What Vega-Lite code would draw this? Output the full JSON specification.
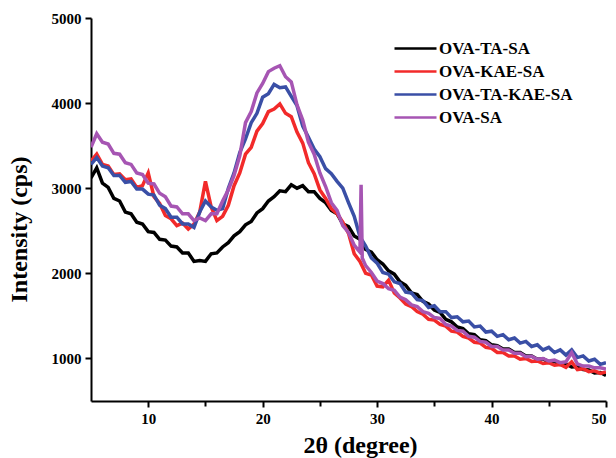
{
  "$schema": "https://vega.github.io/schema/vega-lite/v6.json",
  "width": 515,
  "height": 383,
  "autosize": "none",
  "padding": {"left": 91, "top": 18, "right": 10, "bottom": 57},
  "background": "white",
  "config": {"view": {"stroke": null}},
  "data": {"values": [
    {"x":5.0,"OVA-TA-SA":3120,"OVA-KAE-SA":3320,"OVA-TA-KAE-SA":3280,"OVA-SA":3480},
    {"x":5.5,"OVA-TA-SA":3240,"OVA-KAE-SA":3400,"OVA-TA-KAE-SA":3360,"OVA-SA":3640},
    {"x":6.0,"OVA-TA-SA":3060,"OVA-KAE-SA":3280,"OVA-TA-KAE-SA":3260,"OVA-SA":3540},
    {"x":6.5,"OVA-TA-SA":3010,"OVA-KAE-SA":3260,"OVA-TA-KAE-SA":3240,"OVA-SA":3520},
    {"x":7.0,"OVA-TA-SA":2880,"OVA-KAE-SA":3160,"OVA-TA-KAE-SA":3150,"OVA-SA":3410},
    {"x":7.5,"OVA-TA-SA":2850,"OVA-KAE-SA":3170,"OVA-TA-KAE-SA":3150,"OVA-SA":3400},
    {"x":8.0,"OVA-TA-SA":2720,"OVA-KAE-SA":3100,"OVA-TA-KAE-SA":3070,"OVA-SA":3300},
    {"x":8.5,"OVA-TA-SA":2700,"OVA-KAE-SA":3110,"OVA-TA-KAE-SA":3080,"OVA-SA":3280},
    {"x":9.0,"OVA-TA-SA":2600,"OVA-KAE-SA":3010,"OVA-TA-KAE-SA":2990,"OVA-SA":3180},
    {"x":9.5,"OVA-TA-SA":2580,"OVA-KAE-SA":3030,"OVA-TA-KAE-SA":2990,"OVA-SA":3160},
    {"x":10.0,"OVA-TA-SA":2490,"OVA-KAE-SA":3180,"OVA-TA-KAE-SA":2930,"OVA-SA":3060},
    {"x":10.5,"OVA-TA-SA":2480,"OVA-KAE-SA":2900,"OVA-TA-KAE-SA":2920,"OVA-SA":3050},
    {"x":11.0,"OVA-TA-SA":2400,"OVA-KAE-SA":2820,"OVA-TA-KAE-SA":2800,"OVA-SA":2940},
    {"x":11.5,"OVA-TA-SA":2390,"OVA-KAE-SA":2680,"OVA-TA-KAE-SA":2760,"OVA-SA":2900},
    {"x":12.0,"OVA-TA-SA":2320,"OVA-KAE-SA":2640,"OVA-TA-KAE-SA":2660,"OVA-SA":2790},
    {"x":12.5,"OVA-TA-SA":2310,"OVA-KAE-SA":2560,"OVA-TA-KAE-SA":2660,"OVA-SA":2780},
    {"x":13.0,"OVA-TA-SA":2240,"OVA-KAE-SA":2590,"OVA-TA-KAE-SA":2580,"OVA-SA":2700},
    {"x":13.5,"OVA-TA-SA":2240,"OVA-KAE-SA":2520,"OVA-TA-KAE-SA":2580,"OVA-SA":2700},
    {"x":14.0,"OVA-TA-SA":2140,"OVA-KAE-SA":2580,"OVA-TA-KAE-SA":2540,"OVA-SA":2620},
    {"x":14.5,"OVA-TA-SA":2150,"OVA-KAE-SA":2720,"OVA-TA-KAE-SA":2720,"OVA-SA":2650},
    {"x":15.0,"OVA-TA-SA":2140,"OVA-KAE-SA":3080,"OVA-TA-KAE-SA":2850,"OVA-SA":2620},
    {"x":15.5,"OVA-TA-SA":2230,"OVA-KAE-SA":2780,"OVA-TA-KAE-SA":2780,"OVA-SA":2700},
    {"x":16.0,"OVA-TA-SA":2240,"OVA-KAE-SA":2620,"OVA-TA-KAE-SA":2740,"OVA-SA":2700},
    {"x":16.5,"OVA-TA-SA":2310,"OVA-KAE-SA":2670,"OVA-TA-KAE-SA":2760,"OVA-SA":2850},
    {"x":17.0,"OVA-TA-SA":2360,"OVA-KAE-SA":2800,"OVA-TA-KAE-SA":3000,"OVA-SA":2980},
    {"x":17.5,"OVA-TA-SA":2440,"OVA-KAE-SA":3030,"OVA-TA-KAE-SA":3180,"OVA-SA":3150},
    {"x":18.0,"OVA-TA-SA":2490,"OVA-KAE-SA":3180,"OVA-TA-KAE-SA":3420,"OVA-SA":3380},
    {"x":18.5,"OVA-TA-SA":2570,"OVA-KAE-SA":3400,"OVA-TA-KAE-SA":3580,"OVA-SA":3770},
    {"x":19.0,"OVA-TA-SA":2610,"OVA-KAE-SA":3480,"OVA-TA-KAE-SA":3770,"OVA-SA":3900},
    {"x":19.5,"OVA-TA-SA":2710,"OVA-KAE-SA":3670,"OVA-TA-KAE-SA":3880,"OVA-SA":4120},
    {"x":20.0,"OVA-TA-SA":2760,"OVA-KAE-SA":3760,"OVA-TA-KAE-SA":4070,"OVA-SA":4230},
    {"x":20.5,"OVA-TA-SA":2850,"OVA-KAE-SA":3900,"OVA-TA-KAE-SA":4110,"OVA-SA":4370},
    {"x":21.0,"OVA-TA-SA":2900,"OVA-KAE-SA":3930,"OVA-TA-KAE-SA":4220,"OVA-SA":4410},
    {"x":21.5,"OVA-TA-SA":2970,"OVA-KAE-SA":3990,"OVA-TA-KAE-SA":4180,"OVA-SA":4440},
    {"x":22.0,"OVA-TA-SA":2960,"OVA-KAE-SA":3880,"OVA-TA-KAE-SA":4190,"OVA-SA":4310},
    {"x":22.5,"OVA-TA-SA":3040,"OVA-KAE-SA":3840,"OVA-TA-KAE-SA":4080,"OVA-SA":4250},
    {"x":23.0,"OVA-TA-SA":3000,"OVA-KAE-SA":3660,"OVA-TA-KAE-SA":3970,"OVA-SA":3980},
    {"x":23.5,"OVA-TA-SA":3030,"OVA-KAE-SA":3530,"OVA-TA-KAE-SA":3730,"OVA-SA":3800},
    {"x":24.0,"OVA-TA-SA":2960,"OVA-KAE-SA":3300,"OVA-TA-KAE-SA":3600,"OVA-SA":3540},
    {"x":24.5,"OVA-TA-SA":2960,"OVA-KAE-SA":3170,"OVA-TA-KAE-SA":3460,"OVA-SA":3400},
    {"x":25.0,"OVA-TA-SA":2880,"OVA-KAE-SA":2980,"OVA-TA-KAE-SA":3370,"OVA-SA":3180},
    {"x":25.5,"OVA-TA-SA":2830,"OVA-KAE-SA":2880,"OVA-TA-KAE-SA":3230,"OVA-SA":3020},
    {"x":26.0,"OVA-TA-SA":2740,"OVA-KAE-SA":2760,"OVA-TA-KAE-SA":3170,"OVA-SA":2830},
    {"x":26.5,"OVA-TA-SA":2700,"OVA-KAE-SA":2700,"OVA-TA-KAE-SA":3080,"OVA-SA":2740},
    {"x":27.0,"OVA-TA-SA":2580,"OVA-KAE-SA":2600,"OVA-TA-KAE-SA":3000,"OVA-SA":2560},
    {"x":27.5,"OVA-TA-SA":2550,"OVA-KAE-SA":2470,"OVA-TA-KAE-SA":2830,"OVA-SA":2480},
    {"x":28.0,"OVA-TA-SA":2440,"OVA-KAE-SA":2230,"OVA-TA-KAE-SA":2670,"OVA-SA":2330},
    {"x":28.5,"OVA-TA-SA":2400,"OVA-KAE-SA":2140,"OVA-TA-KAE-SA":2430,"OVA-SA":2250},
    {"x":28.6,"OVA-SA":3040},
    {"x":28.7,"OVA-SA":2180},
    {"x":29.0,"OVA-TA-SA":2280,"OVA-KAE-SA":2000,"OVA-TA-KAE-SA":2320,"OVA-SA":2090},
    {"x":29.5,"OVA-TA-SA":2250,"OVA-KAE-SA":1980,"OVA-TA-KAE-SA":2180,"OVA-SA":2010},
    {"x":30.0,"OVA-TA-SA":2160,"OVA-KAE-SA":1850,"OVA-TA-KAE-SA":2120,"OVA-SA":1910},
    {"x":30.5,"OVA-TA-SA":2110,"OVA-KAE-SA":1840,"OVA-TA-KAE-SA":2010,"OVA-SA":1880},
    {"x":31.0,"OVA-TA-SA":2030,"OVA-KAE-SA":1920,"OVA-TA-KAE-SA":1990,"OVA-SA":1820},
    {"x":31.5,"OVA-TA-SA":1990,"OVA-KAE-SA":1770,"OVA-TA-KAE-SA":1900,"OVA-SA":1800},
    {"x":32.0,"OVA-TA-SA":1900,"OVA-KAE-SA":1710,"OVA-TA-KAE-SA":1880,"OVA-SA":1720},
    {"x":32.5,"OVA-TA-SA":1860,"OVA-KAE-SA":1640,"OVA-TA-KAE-SA":1780,"OVA-SA":1690},
    {"x":33.0,"OVA-TA-SA":1770,"OVA-KAE-SA":1610,"OVA-TA-KAE-SA":1770,"OVA-SA":1630},
    {"x":33.5,"OVA-TA-SA":1750,"OVA-KAE-SA":1550,"OVA-TA-KAE-SA":1690,"OVA-SA":1610},
    {"x":34.0,"OVA-TA-SA":1670,"OVA-KAE-SA":1520,"OVA-TA-KAE-SA":1680,"OVA-SA":1550},
    {"x":34.5,"OVA-TA-SA":1640,"OVA-KAE-SA":1460,"OVA-TA-KAE-SA":1600,"OVA-SA":1530},
    {"x":35.0,"OVA-TA-SA":1570,"OVA-KAE-SA":1450,"OVA-TA-KAE-SA":1620,"OVA-SA":1480},
    {"x":35.5,"OVA-TA-SA":1540,"OVA-KAE-SA":1400,"OVA-TA-KAE-SA":1550,"OVA-SA":1470},
    {"x":36.0,"OVA-TA-SA":1460,"OVA-KAE-SA":1380,"OVA-TA-KAE-SA":1550,"OVA-SA":1400},
    {"x":36.5,"OVA-TA-SA":1430,"OVA-KAE-SA":1320,"OVA-TA-KAE-SA":1480,"OVA-SA":1380},
    {"x":37.0,"OVA-TA-SA":1370,"OVA-KAE-SA":1310,"OVA-TA-KAE-SA":1490,"OVA-SA":1330},
    {"x":37.5,"OVA-TA-SA":1350,"OVA-KAE-SA":1260,"OVA-TA-KAE-SA":1430,"OVA-SA":1320},
    {"x":38.0,"OVA-TA-SA":1290,"OVA-KAE-SA":1240,"OVA-TA-KAE-SA":1440,"OVA-SA":1260},
    {"x":38.5,"OVA-TA-SA":1280,"OVA-KAE-SA":1190,"OVA-TA-KAE-SA":1370,"OVA-SA":1250},
    {"x":39.0,"OVA-TA-SA":1220,"OVA-KAE-SA":1180,"OVA-TA-KAE-SA":1380,"OVA-SA":1200},
    {"x":39.5,"OVA-TA-SA":1210,"OVA-KAE-SA":1130,"OVA-TA-KAE-SA":1310,"OVA-SA":1190},
    {"x":40.0,"OVA-TA-SA":1160,"OVA-KAE-SA":1120,"OVA-TA-KAE-SA":1320,"OVA-SA":1140},
    {"x":40.5,"OVA-TA-SA":1150,"OVA-KAE-SA":1070,"OVA-TA-KAE-SA":1260,"OVA-SA":1140},
    {"x":41.0,"OVA-TA-SA":1110,"OVA-KAE-SA":1070,"OVA-TA-KAE-SA":1280,"OVA-SA":1100},
    {"x":41.5,"OVA-TA-SA":1110,"OVA-KAE-SA":1030,"OVA-TA-KAE-SA":1220,"OVA-SA":1100},
    {"x":42.0,"OVA-TA-SA":1070,"OVA-KAE-SA":1030,"OVA-TA-KAE-SA":1240,"OVA-SA":1060},
    {"x":42.5,"OVA-TA-SA":1070,"OVA-KAE-SA":990,"OVA-TA-KAE-SA":1180,"OVA-SA":1060},
    {"x":43.0,"OVA-TA-SA":1030,"OVA-KAE-SA":1000,"OVA-TA-KAE-SA":1200,"OVA-SA":1020},
    {"x":43.5,"OVA-TA-SA":1030,"OVA-KAE-SA":965,"OVA-TA-KAE-SA":1140,"OVA-SA":1025},
    {"x":44.0,"OVA-TA-SA":990,"OVA-KAE-SA":970,"OVA-TA-KAE-SA":1160,"OVA-SA":990},
    {"x":44.5,"OVA-TA-SA":995,"OVA-KAE-SA":940,"OVA-TA-KAE-SA":1100,"OVA-SA":1000},
    {"x":45.0,"OVA-TA-SA":960,"OVA-KAE-SA":950,"OVA-TA-KAE-SA":1130,"OVA-SA":970},
    {"x":45.5,"OVA-TA-SA":965,"OVA-KAE-SA":920,"OVA-TA-KAE-SA":1070,"OVA-SA":980},
    {"x":46.0,"OVA-TA-SA":930,"OVA-KAE-SA":930,"OVA-TA-KAE-SA":1100,"OVA-SA":950},
    {"x":46.5,"OVA-TA-SA":935,"OVA-KAE-SA":895,"OVA-TA-KAE-SA":1040,"OVA-SA":960},
    {"x":47.0,"OVA-TA-SA":900,"OVA-KAE-SA":960,"OVA-TA-KAE-SA":1100,"OVA-SA":1070},
    {"x":47.5,"OVA-TA-SA":905,"OVA-KAE-SA":870,"OVA-TA-KAE-SA":1010,"OVA-SA":935},
    {"x":48.0,"OVA-TA-SA":870,"OVA-KAE-SA":880,"OVA-TA-KAE-SA":1030,"OVA-SA":910},
    {"x":48.5,"OVA-TA-SA":865,"OVA-KAE-SA":845,"OVA-TA-KAE-SA":970,"OVA-SA":910},
    {"x":49.0,"OVA-TA-SA":830,"OVA-KAE-SA":855,"OVA-TA-KAE-SA":990,"OVA-SA":890},
    {"x":49.5,"OVA-TA-SA":835,"OVA-KAE-SA":825,"OVA-TA-KAE-SA":930,"OVA-SA":890},
    {"x":50.0,"OVA-TA-SA":800,"OVA-KAE-SA":840,"OVA-TA-KAE-SA":950,"OVA-SA":875}
  ]},
  "transform": [
    {"fold": ["OVA-TA-SA", "OVA-KAE-SA", "OVA-TA-KAE-SA", "OVA-SA"], "as": ["series", "intensity"]},
    {"filter": "isValid(datum.intensity)"}
  ],
  "mark": {"type": "line", "strokeWidth": 3.5, "clip": true},
  "encoding": {
    "x": {
      "field": "x", "type": "quantitative",
      "scale": {"domain": [5, 50], "nice": false, "zero": false},
      "axis": {
        "title": "2θ (degree)",
        "titleX": 269,
        "titleAlign": "center",
        "values": [10, 15, 20, 25, 30, 35, 40, 45, 50],
        "labelExpr": "datum.value % 10 === 0 ? datum.label : ''",
        "grid": false,
        "domainColor": "black", "domainWidth": 2,
        "tickColor": "black", "tickWidth": 2,
        "tickSize": {"condition": {"test": "datum.value % 10 === 0", "value": 6}, "value": 5},
        "labelFont": "Liberation Serif", "labelFontWeight": "bold", "labelFontSize": 15, "labelColor": "black",
        "labelPadding": 4,
        "titleFont": "Liberation Serif", "titleFontWeight": "bold", "titleFontSize": 24, "titleColor": "black",
        "titlePadding": 7
      }
    },
    "y": {
      "field": "intensity", "type": "quantitative",
      "scale": {"domain": [500, 5000], "nice": false, "zero": false},
      "axis": {
        "title": "Intensity (cps)",
        "titleY": 211,
        "values": [1000, 2000, 3000, 4000, 5000],
        "format": "d",
        "grid": false,
        "domainColor": "black", "domainWidth": 2,
        "tickColor": "black", "tickWidth": 2, "tickSize": 6,
        "labelFont": "Liberation Serif", "labelFontWeight": "bold", "labelFontSize": 15, "labelColor": "black",
        "labelPadding": 4,
        "titleFont": "Liberation Serif", "titleFontWeight": "bold", "titleFontSize": 24, "titleColor": "black",
        "titlePadding": 20
      }
    },
    "color": {
      "field": "series", "type": "nominal",
      "scale": {
        "domain": ["OVA-TA-SA", "OVA-KAE-SA", "OVA-TA-KAE-SA", "OVA-SA"],
        "range": ["#000000", "#f22a2a", "#3a4fa6", "#a655b3"]
      },
      "legend": {
        "title": null,
        "orient": "none",
        "legendX": 316,
        "legendY": 22,
        "symbolType": "M-3,0H3",
        "symbolSize": 196,
        "symbolStrokeWidth": 2.5,
        "labelFont": "Liberation Serif", "labelFontWeight": "bold", "labelFontSize": 17, "labelColor": "black",
        "labelOffset": 15,
        "rowPadding": 5
      }
    }
  }
}
